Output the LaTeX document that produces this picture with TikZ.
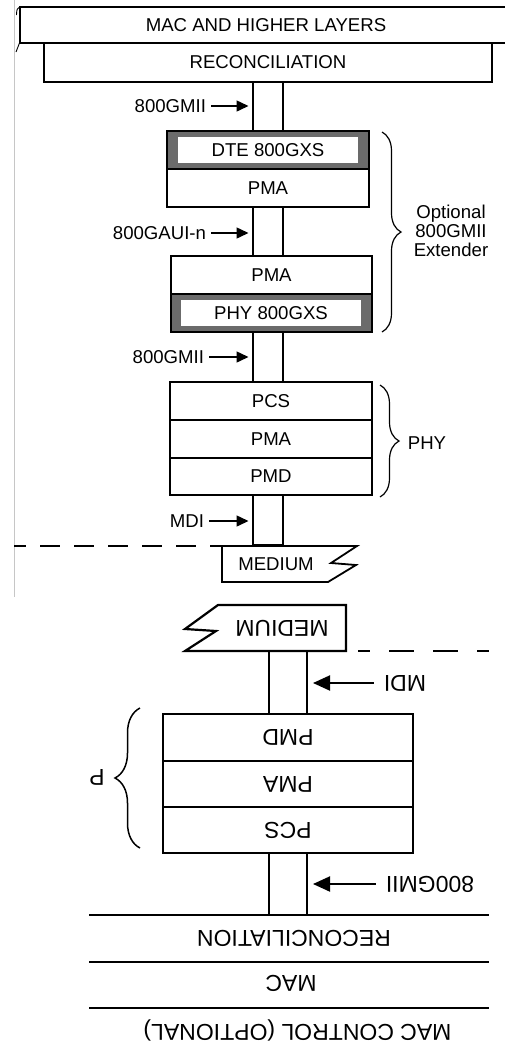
\documentclass[tikz,border=0pt]{standalone}
\usepackage{fontspec}
\setmainfont{Liberation Sans}
\usepackage{xcolor}
\usetikzlibrary{arrows.meta}
\usetikzlibrary{positioning}
\usetikzlibrary{decorations.pathreplacing}
\definecolor{xgsgray}{HTML}{6B6B6B}

\begin{document}
\begin{tikzpicture}[
  x=1pt, y=-1pt,
  every node/.style={inner sep=0pt, outer sep=0pt, font=\fontsize{18.6}{19}\selectfont},
  layer/.style={draw, line width=1.8pt, fill=white, minimum width=202pt, minimum height=38pt},
  xgs/.style={layer, fill=xgsgray},
  xgsin/.style={fill=white, minimum width=180pt, minimum height=26pt},
  col/.style={draw, line width=1.8pt, fill=white, minimum width=30pt},
  lbl/.style={anchor=east},
  brc/.style={decorate, decoration={brace, amplitude=19pt}, line width=1.2pt},
  big/.style={font=\fontsize{23}{26}\selectfont, rotate=180},
  blayer/.style={draw, line width=2.2pt, fill=white, minimum width=250pt, minimum height=46pt},
  bcol/.style={draw, line width=2.2pt, fill=white, minimum width=38pt},
  rule/.style={line width=2.2pt},
]
\tikzset{>={Triangle[length=12pt, width=11pt]}}
\useasboundingbox (0,0) rectangle (505,1053);

% upper stack
\draw[gray!45, line width=0.8pt] (14.3,0) -- (14.3,597);
\node[col, minimum height=49pt] (colA) at (268,106.5) {};
\node[col, minimum height=49pt] (colB) at (268,231.5) {};
\node[col, minimum height=50pt] (colC) at (268,357) {};
\node[col, minimum height=50pt] (colD) at (268,520) {};

\node[draw, line width=1.8pt, fill=white, minimum width=492pt, minimum height=36pt] (mac) at (266,25) {MAC AND HIGHER LAYERS};
\draw[line width=0.9pt] (16.5,15) .. controls (16.8,9) .. (20,7);
\draw[line width=0.9pt] (16,52) -- (19.5,43);
\node[layer, minimum width=448pt, minimum height=39pt] (rec) at (268,62.5) {RECONCILIATION};

\node[xgs] (dte) at (268,150) {};
\node[xgsin] (dtein) at (dte) {DTE 800GXS};
\node[layer] (pmaA) at (268,188) {PMA};
\node[layer, minimum width=201pt] (pmaB) at (271.5,275) {PMA};
\node[xgs, minimum width=201pt] (phy) at (271.5,313) {};
\node[xgsin] (phyin) at (271,313) {PHY 800GXS};

\node[layer] (pcs) at (271,401) {PCS};
\node[layer] (pmaC) at (271,439) {PMA};
\node[layer, minimum height=37pt] (pmd) at (271,476.5) {PMD};

\node[lbl] (gmiiA) at (206,106) {800GMII};
\node[lbl] (gaui) at (206,233) {800GAUI-n};
\node[lbl] (gmiiC) at (204,357) {800GMII};
\node[lbl] (mdiA) at (204,521) {MDI};
\foreach \l/\c in {gmiiA/colA, gaui/colB, gmiiC/colC, mdiA/colD}
  \draw[->, line width=1.5pt, shorten >=4.5pt] ([xshift=5pt]\l.east) -- (\l.east -| \c.west);

\draw[brc] (382,132) -- (382,332);
\node[align=center] (ext) at (451,231) {Optional\\800GMII\\Extender};
\draw[brc] (380,385) -- (380,497);
\node (phyl) at (427,443) {PHY};

\draw[line width=1.5pt, dash pattern=on 20pt off 14pt, dash phase=8pt] (14,546) -- (222,546);
\draw[line width=1.8pt, fill=white] (222,546) -- (357,546) -- (331,563) -- (356,565) -- (328,582) -- (222,582) -- cycle;
\node (medA) at (276,564) {MEDIUM};

% lower stack, turned over
\node[bcol, minimum height=63pt] (colE) at (288,682.5) {};
\node[bcol, minimum height=62pt] (colF) at (288,884) {};
\draw[line width=2.2pt, fill=white] (218,605) -- (346,605) -- (346,651) -- (185,651) -- (216,631) -- (185,629) -- cycle;
\node[big] (medB) at (282,628) {MEDIUM};
\draw[line width=2pt, dash pattern=on 25pt off 19pt, dash phase=13pt] (358,651) -- (489,651);

\node[blayer, minimum height=47pt] (pmdB) at (288,737.5) {};
\node[big] at (pmdB) {PMD};
\node[blayer] (pmaD) at (288,784) {};
\node[big] at (pmaD) {PMA};
\node[blayer] (pcsB) at (288,830) {};
\node[big] at (pcsB) {PCS};

\draw[decorate, decoration={brace, amplitude=25pt}, line width=1.5pt] (140,848) -- (140,708);
\node[big] (pl) at (97,777) {P};

\node[big] (mdiB) at (405,683) {MDI};
\node[big] (gmiiB) at (430,884) {800GMII};
\begin{scope}[>={Triangle[length=17pt, width=15pt]}]
\foreach \l/\c in {mdiB/colE, gmiiB/colF}
  \draw[->, line width=2pt, shorten >=6pt] ([xshift=-10pt]\l.east) -- (\l.east -| \c.east);
\end{scope}

\draw[rule] (89,915) -- (489,915);
\draw[rule] (89,962) -- (489,962);
\draw[rule] (89,1008) -- (489,1008);
\node[big] (recB) at (294,938) {RECONCILIATION};
\node[big] (macB) at (291,983) {MAC};
\node[big] (ctlB) at (297.5,1030) {MAC CONTROL (OPTIONAL)};
\end{tikzpicture}
\end{document}
